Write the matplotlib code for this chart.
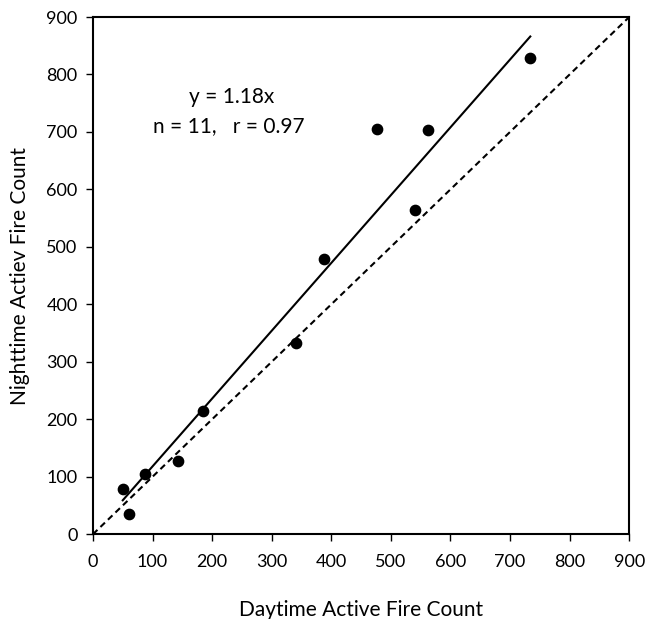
import matplotlib
matplotlib.use("Agg")
import matplotlib.pyplot as plt
import numpy as np

day = [50, 60, 87, 143, 185, 341, 388, 477, 541, 562, 734]
night = [78, 35, 104, 127, 214, 333, 479, 705, 564, 703, 829]
slope = 1.18
xticks = [0, 100, 200, 300, 400, 500, 600, 700, 800, 900]
yticks = [0, 100, 200, 300, 400, 500, 600, 700, 800, 900]

plt.rcParams['font.family'] = ['Lato', 'DejaVu Sans']
fig = plt.figure(figsize=(6.5, 6.19), dpi=100)
ax = fig.add_axes([0.143, 0.137, 0.825, 0.8355])

ax.plot([0, 900], [0, 900], color='black', linestyle=(0, (3, 2)), linewidth=1.5)
xs = np.array([min(day), max(day)])
ax.plot(xs, slope * xs, color='black', linewidth=1.5)
ax.scatter(day, night, s=55, color='black', zorder=3)

ax.set_xlim(0, 900)
ax.set_ylim(0, 900)
ax.set_xticks(xticks)
ax.set_yticks(yticks)
ax.tick_params(direction='out', length=5, width=1, labelsize=13)
ax.tick_params(axis='x', pad=9)
ax.tick_params(axis='y', pad=6)
for s in ax.spines.values():
    s.set_linewidth(1.5)

ax.text(232, 761, 'y = 1.18x', ha='center', va='center', fontsize=15)
ax.text(228, 710, 'n = 11,   r = 0.97', ha='center', va='center', fontsize=15)

ax.set_xlabel('Daytime Active Fire Count', fontsize=15, labelpad=22)
ax.set_ylabel('Nighttime Actiev Fire Count', fontsize=15, labelpad=12)

fig.savefig('out.png', dpi=100)
